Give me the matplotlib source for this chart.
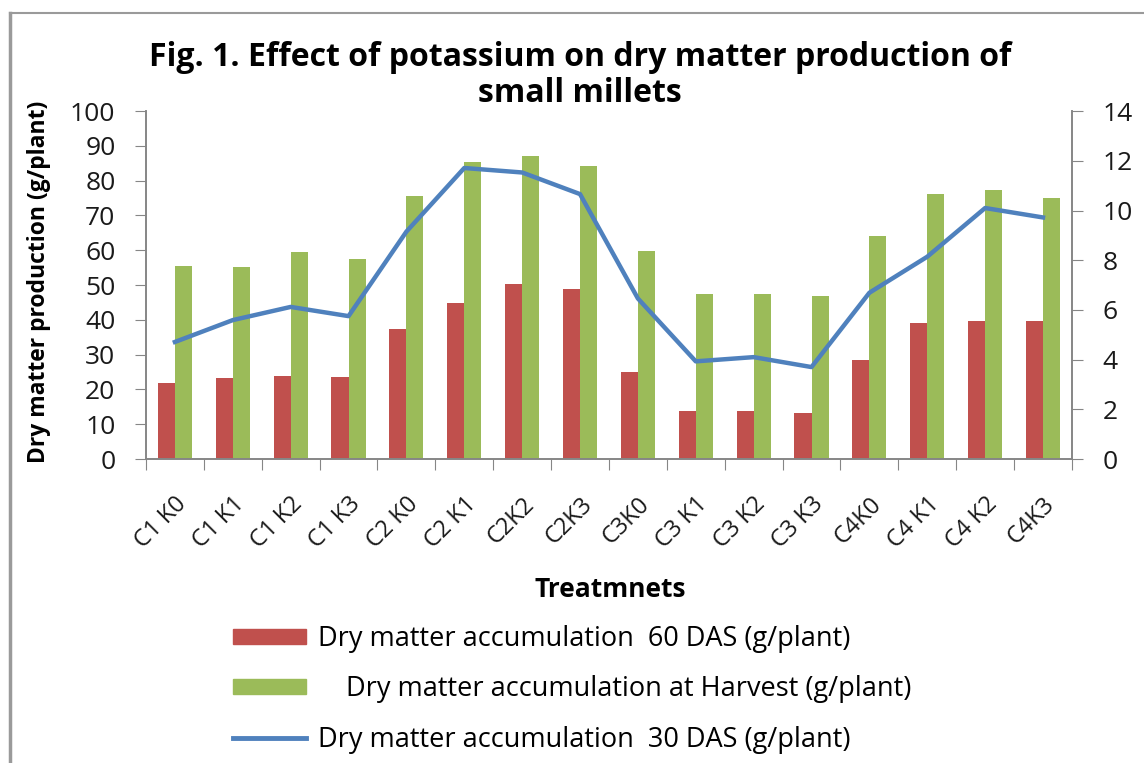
import matplotlib.pyplot as plt
import numpy as np
from matplotlib.lines import Line2D
from matplotlib.patches import Patch

plt.rcParams["font.family"] = ["Open Sans", "DejaVu Sans"]

treatments = ["C1 K0", "C1 K1", "C1 K2", "C1 K3", "C2 K0", "C2 K1", "C2K2", "C2K3",
              "C3K0", "C3 K1", "C3 K2", "C3 K3", "C4K0", "C4 K1", "C4 K2", "C4K3"]
dm_60das = [21.9, 23.2, 23.9, 23.5, 37.3, 44.7, 50.3, 48.8,
            25.0, 13.7, 13.7, 13.3, 28.6, 39.2, 39.7, 39.7]
dm_harvest = [55.6, 55.3, 59.4, 57.5, 75.7, 85.3, 87.1, 84.1,
              59.7, 47.3, 47.3, 46.9, 64.0, 76.1, 77.4, 75.0]
dm_30das = [4.71, 5.59, 6.12, 5.75, 9.15, 11.71, 11.53, 10.66,
            6.46, 3.93, 4.10, 3.70, 6.69, 8.14, 10.10, 9.72]

red, green, blue = "#C0504D", "#9BBB59", "#4F81BD"
grey = "#868686"

fig = plt.figure(figsize=(11.44, 7.63), dpi=100)
ax = fig.add_axes([0.1276, 0.3984, 0.8094, 0.456])
ax2 = ax.twinx()

x = np.arange(len(treatments))
w = 0.295
ax.bar(x - w / 2, dm_60das, w, color=red, zorder=2)
ax.bar(x + w / 2, dm_harvest, w, color=green, zorder=2)
ax2.plot(x, dm_30das, color=blue, lw=3.2, solid_joinstyle="round")

ax.set_xlim(-0.5, len(treatments) - 0.5)
ax.set_ylim(0, 100)
ax.set_yticks(range(0, 101, 10))
ax2.set_ylim(0, 14)
ax2.set_yticks(range(0, 15, 2))

# category boundaries carry the tick marks, centres carry the labels
ax.set_xticks(np.append(x - 0.5, len(treatments) - 0.5))
ax.set_xticklabels([])
ax.set_xticks(x, minor=True)
ax.set_xticklabels(treatments, minor=True, rotation=45, ha="right",
                   rotation_mode="anchor", fontsize=17, color="#1a1a1a")
ax.tick_params(axis="x", which="minor", length=0, pad=24)
ax.tick_params(axis="x", which="major", length=8, color=grey, direction="out")
ax.tick_params(axis="y", length=8, color=grey, labelsize=19, labelcolor="#1a1a1a", pad=14)
ax2.tick_params(axis="y", length=8, color=grey, labelsize=19, labelcolor="#1a1a1a", pad=14)

for a in (ax, ax2):
    a.spines["top"].set_visible(False)
    for s in ("left", "right", "bottom"):
        a.spines[s].set_color(grey)
        a.spines[s].set_linewidth(1.2)

ax.set_ylabel("Dry matter production (g/plant)", fontsize=16.5, fontweight="bold")
ax.yaxis.set_label_coords(-0.103, 0.51)
fig.text(0.533, 0.227, "Treatmnets", ha="center", va="center",
         fontsize=19, fontweight="bold")
fig.text(0.507, 0.901, "Fig. 1. Effect of potassium on dry matter production of\nsmall millets",
         ha="center", va="center", fontsize=23, fontweight="bold", linespacing=1.15)

handles = [Patch(color=red), Patch(color=green), Line2D([], [], color=blue, lw=3.5)]
labels = ["Dry matter accumulation  60 DAS (g/plant)",
          "    Dry matter accumulation at Harvest (g/plant)",
          "Dry matter accumulation  30 DAS (g/plant)"]
fig.legend(handles, labels, loc="upper left", bbox_to_anchor=(0.182, 0.213),
           frameon=False, fontsize=19.5, handlelength=2.7, handleheight=0.5,
           handletextpad=0.45, labelspacing=0.83, alignment="left")

fig.add_artist(Line2D([0.009, 0.009], [0, 0.983], color="#9a9a9a", lw=2.5,
                      transform=fig.transFigure))
fig.add_artist(Line2D([0.009, 1], [0.983, 0.983], color="#9a9a9a", lw=1.5,
                      transform=fig.transFigure))

fig.savefig("out.png", dpi=100)
